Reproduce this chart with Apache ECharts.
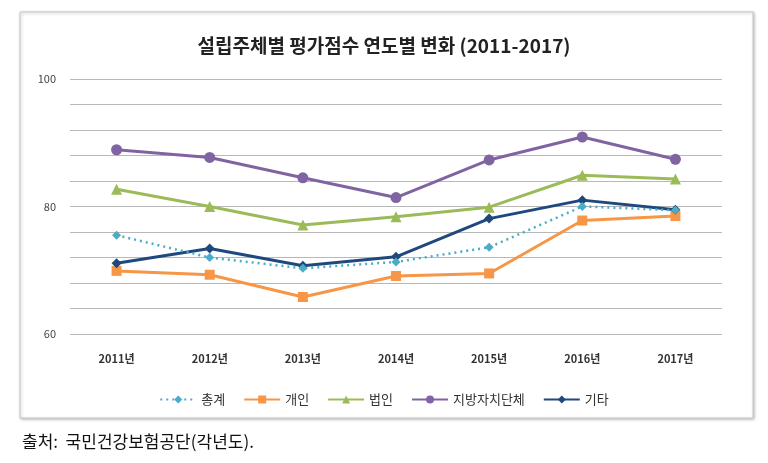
<!DOCTYPE html>
<html><head><meta charset="utf-8">
<script src="https://cdn.jsdelivr.net/npm/echarts@6/dist/echarts.min.js"></script>
<style>html,body{margin:0;padding:0;background:#fff}#c{width:768px;height:463px}</style>
</head><body><div id="c"></div>
<script>
const categories = ['2011년','2012년','2013년','2014년','2015년','2016년','2017년'];
const total   = [75.5, 72.0, 70.3, 71.3, 73.6, 80.0, 79.4];
const indiv   = [69.9, 69.3, 65.8, 69.1, 69.5, 77.8, 78.5];
const corp    = [82.7, 80.0, 77.1, 78.4, 79.9, 84.9, 84.3];
const local   = [88.9, 87.7, 84.5, 81.4, 87.3, 90.9, 87.4];
const other   = [71.1, 73.4, 70.7, 72.1, 78.1, 81.0, 79.5];
const seriesNames = ['총계','개인','법인','지방자치단체','기타'];
const yTicks = [60, 80, 100];

const chart = echarts.init(document.getElementById('c'), null, {renderer:'canvas'});
const font = '"Noto Sans CJK KR", "Noto Sans", sans-serif';
function mk(name, data, color, symbol, size, dotted){
  return {name, type:'line', data, symbol, symbolSize:size,
    lineStyle:{color, width: dotted?2.5:3, type: dotted?[2,4]:'solid'},
    itemStyle:{color}, z: dotted?5:3, animation:false};
}
chart.setOption({
  animation:false,
  backgroundColor:'#fff',
  graphic:[
    {type:'rect', shape:{x:20,y:12,width:733,height:406}, style:{fill:'#fff', stroke:'#c8c8c8', lineWidth:1, shadowBlur:3, shadowColor:'rgba(0,0,0,0.25)', shadowOffsetX:1, shadowOffsetY:1}, z:-10},
    {type:'text', left:22, top:433, style:{text:'출처:  국민건강보험공단(각년도).', font:'17px '+font, fill:'#111'}}
  ],
  title:{text:'설립주체별 평가점수 연도별 변화 (2011-2017)', left:'center', top:31,
    textStyle:{fontFamily:font, fontSize:19, fontWeight:'bold', color:'#222'}},
  legend:{data:seriesNames, top:388, left:'center', itemWidth:36, itemHeight:10, itemGap:18,
    textStyle:{fontFamily:font, fontSize:13, color:'#333'}},
  grid:{left:70, right:46, top:79, bottom:129},
  xAxis:{type:'category', data:categories, boundaryGap:true,
    axisLine:{show:false}, axisTick:{show:false},
    axisLabel:{fontFamily:font, fontSize:11, fontWeight:'bold', color:'#333', margin:19}},
  yAxis:{type:'value', min:60, max:100, interval:4,
    axisLine:{show:false}, axisTick:{show:false},
    axisLabel:{fontFamily:font, fontSize:11, color:'#444', margin:14,
      formatter: v => yTicks.includes(v) ? String(v) : ''},
    splitLine:{lineStyle:{color:'#b8b8b8', width:1}}},
  series:[
    mk('총계', total, '#4bacc6', 'diamond', 9, true),
    mk('개인', indiv, '#f79646', 'rect', 10, false),
    mk('법인', corp, '#9bbb59', 'triangle', 11, false),
    mk('지방자치단체', local, '#8064a2', 'circle', 11, false),
    mk('기타', other, '#1f497d', 'diamond', 10, false)
  ]
});
</script></body></html>
